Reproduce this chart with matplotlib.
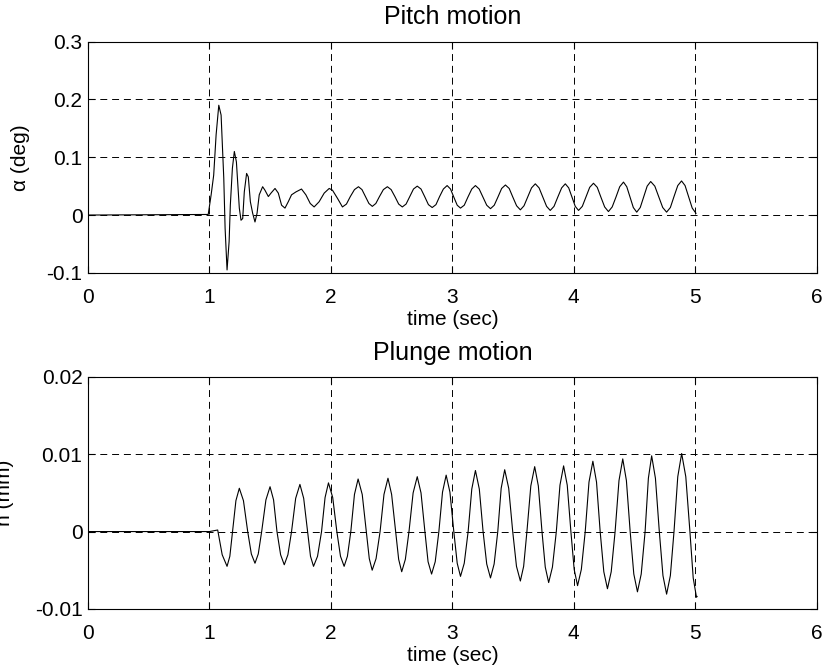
import matplotlib.pyplot as plt
from matplotlib.ticker import FixedLocator

plt.rcParams['font.family'] = ['Liberation Sans', 'DejaVu Sans']
plt.rcParams['font.size'] = 15
plt.rcParams['lines.scale_dashes'] = False

# Pitch response: transient after the impulse at t = 1 s
pitch_t_transient = [0.0, 0.99, 1.014, 1.035, 1.055, 1.077, 1.096, 1.118, 1.129,
                     1.145, 1.162, 1.172, 1.189, 1.205, 1.222, 1.232, 1.246,
                     1.26, 1.274, 1.287, 1.306, 1.32, 1.337, 1.356, 1.375,
                     1.392, 1.41, 1.438, 1.457, 1.485, 1.507, 1.54, 1.567,
                     1.594, 1.622, 1.649, 1.676, 1.712, 1.758, 1.794, 1.83,
                     1.862, 1.903, 1.945, 1.986, 2.013, 2.054]
pitch_a_transient = [0.0, 0.001, 0.035, 0.069, 0.139, 0.19, 0.173, 0.064, -0.023,
                     -0.095, -0.046, 0.017, 0.081, 0.110, 0.092, 0.058, 0.012,
                     -0.009, -0.006, 0.040, 0.072, 0.066, 0.023, 0.003, -0.012,
                     0.003, 0.035, 0.049, 0.043, 0.032, 0.038, 0.046, 0.038,
                     0.017, 0.012, 0.023, 0.035, 0.040, 0.045, 0.035, 0.020,
                     0.014, 0.023, 0.038, 0.046, 0.043, 0.029]

# Pitch response: steady oscillation
pitch_t_osc = [2.095, 2.128, 2.16, 2.194, 2.227, 2.256, 2.285, 2.313, 2.341,
               2.37, 2.40, 2.432, 2.465, 2.496, 2.527, 2.558, 2.588, 2.619,
               2.65, 2.68, 2.711, 2.742, 2.772, 2.803, 2.834, 2.865, 2.895,
               2.926, 2.957, 2.985, 3.012, 3.04, 3.067, 3.098, 3.128, 3.16,
               3.19, 3.221, 3.252, 3.283, 3.314, 3.345, 3.375, 3.406, 3.437,
               3.468, 3.498, 3.529, 3.56, 3.59, 3.62, 3.652, 3.683, 3.714,
               3.745, 3.776, 3.806, 3.837, 3.868, 3.9, 3.93, 3.958, 3.985,
               4.012, 4.039, 4.07, 4.10, 4.131, 4.162, 4.193, 4.223, 4.254,
               4.285, 4.316, 4.347, 4.378, 4.409, 4.436, 4.463, 4.49, 4.518,
               4.547, 4.575, 4.604, 4.633, 4.667, 4.70, 4.732, 4.764, 4.795,
               4.825, 4.856, 4.887, 4.916, 4.945, 4.975, 5.006]
pitch_a_osc = [0.014, 0.019, 0.032, 0.044, 0.049, 0.044, 0.032, 0.020, 0.015,
               0.020, 0.032, 0.044, 0.049, 0.044, 0.032, 0.019, 0.014, 0.019,
               0.032, 0.045, 0.050, 0.045, 0.032, 0.018, 0.013, 0.018, 0.032,
               0.045, 0.051, 0.045, 0.031, 0.017, 0.012, 0.017, 0.031, 0.045,
               0.051, 0.045, 0.031, 0.017, 0.011, 0.017, 0.031, 0.046, 0.052,
               0.046, 0.031, 0.016, 0.009, 0.016, 0.031, 0.047, 0.054, 0.047,
               0.031, 0.015, 0.008, 0.015, 0.031, 0.047, 0.054, 0.047, 0.031,
               0.015, 0.008, 0.015, 0.031, 0.048, 0.055, 0.048, 0.031, 0.014,
               0.006, 0.014, 0.031, 0.049, 0.057, 0.049, 0.031, 0.013, 0.005,
               0.013, 0.031, 0.050, 0.058, 0.050, 0.031, 0.013, 0.005, 0.013,
               0.032, 0.051, 0.059, 0.051, 0.032, 0.012, 0.003]

# Plunge response (mm)
plunge_t = [0.0, 1.0, 1.068, 1.105, 1.145, 1.168, 1.19, 1.218, 1.246, 1.28,
            1.315, 1.345, 1.375, 1.402, 1.43, 1.465, 1.499, 1.528, 1.556,
            1.586, 1.616, 1.646, 1.676, 1.71, 1.745, 1.776, 1.808, 1.832,
            1.857, 1.89, 1.923, 1.952, 1.98, 2.015, 2.049, 2.079, 2.109,
            2.136, 2.164, 2.194, 2.224, 2.258, 2.292, 2.316, 2.34, 2.372,
            2.405, 2.437, 2.47, 2.50, 2.533, 2.558, 2.583, 2.613, 2.643,
            2.677, 2.711, 2.742, 2.774, 2.80, 2.829, 2.859, 2.889, 2.919,
            2.949, 2.98, 3.012, 3.04, 3.067, 3.098, 3.13, 3.16, 3.19, 3.222,
            3.253, 3.283, 3.314, 3.344, 3.374, 3.402, 3.431, 3.464, 3.497,
            3.528, 3.56, 3.587, 3.614, 3.646, 3.678, 3.708, 3.738, 3.765,
            3.793, 3.824, 3.856, 3.886, 3.916, 3.946, 3.976, 4.003, 4.031,
            4.062, 4.094, 4.125, 4.157, 4.187, 4.217, 4.247, 4.277, 4.308,
            4.34, 4.372, 4.403, 4.433, 4.464, 4.494, 4.524, 4.555, 4.587,
            4.614, 4.641, 4.672, 4.704, 4.734, 4.764, 4.795, 4.825, 4.856,
            4.888, 4.922, 4.956, 4.983, 5.01, 5.015]
plunge_h = [0.0, 0.0, 0.0002, -0.0030, -0.0045, -0.0032, 0.0, 0.0040, 0.0056,
            0.0040, 0.0, -0.0029, -0.0041, -0.0029, 0.0, 0.0041, 0.0058,
            0.0041, 0.0, -0.0030, -0.0043, -0.0030, 0.0, 0.0043, 0.0061,
            0.0043, 0.0, -0.0032, -0.0045, -0.0032, 0.0, 0.0044, 0.0063,
            0.0044, 0.0, -0.0032, -0.0045, -0.0032, 0.0, 0.0048, 0.0068,
            0.0048, 0.0, -0.0035, -0.0050, -0.0035, 0.0, 0.0048, 0.0069,
            0.0048, 0.0, -0.0036, -0.0052, -0.0036, 0.0, 0.0050, 0.0071,
            0.0050, 0.0, -0.0039, -0.0055, -0.0039, 0.0, 0.0051, 0.0073,
            0.0051, 0.0, -0.0041, -0.0058, -0.0041, 0.0, 0.0055, 0.0079,
            0.0055, 0.0, -0.0042, -0.0060, -0.0042, 0.0, 0.0056, 0.0080,
            0.0056, 0.0, -0.0045, -0.0064, -0.0045, 0.0, 0.0059, 0.0084,
            0.0059, 0.0, -0.0046, -0.0066, -0.0046, 0.0, 0.0060, 0.0085,
            0.0060, 0.0, -0.0049, -0.0070, -0.0049, 0.0, 0.0064, 0.0091,
            0.0064, 0.0, -0.0052, -0.0074, -0.0052, 0.0, 0.0066, 0.0094,
            0.0066, 0.0, -0.0055, -0.0078, -0.0055, 0.0, 0.0069, 0.0098,
            0.0069, 0.0, -0.0057, -0.0081, -0.0057, 0.0, 0.0071, 0.0101,
            0.0071, 0.0, -0.0060, -0.0085, -0.0084]

x_ticks = [0, 1, 2, 3, 4, 5, 6]
pitch_ticks = [-0.1, 0, 0.1, 0.2, 0.3]
pitch_labels = ['-0.1', '0', '0.1', '0.2', '0.3']
plunge_ticks = [-0.01, 0, 0.01, 0.02]
plunge_labels = ['-0.01', '0', '0.01', '0.02']


def style_axes(ax, yticks, ylabels):
    ax.set_xlim(0, 6)
    ax.xaxis.set_major_locator(FixedLocator(x_ticks))
    ax.set_xticklabels([str(v) for v in x_ticks])
    ax.set_yticks(yticks)
    ax.set_yticklabels(ylabels)
    ax.set_ylim(yticks[0], yticks[-1])
    ax.tick_params(direction='in', length=5, width=0.8, top=True, right=True)
    ax.tick_params(axis='x', pad=11)
    ax.tick_params(axis='y', pad=4)
    ax.grid(True, color='black', linestyle=(0, (5, 3.5)), linewidth=0.7)
    for sp in ax.spines.values():
        sp.set_linewidth(0.8)
    ax.set_xlabel('time (sec)', labelpad=2)


fig = plt.figure(figsize=(8.3, 6.72), dpi=100)

ax1 = fig.add_axes([0.106, 0.594, 0.878, 0.344])
ax1.plot(pitch_t_transient + pitch_t_osc, pitch_a_transient + pitch_a_osc,
         color='black', linewidth=0.8)
style_axes(ax1, pitch_ticks, pitch_labels)
ax1.set_title('Pitch motion', pad=13)
ax1.set_ylabel('\u03b1 (deg)')
ax1.yaxis.set_label_coords(-0.080, 0.5)

ax2 = fig.add_axes([0.106, 0.094, 0.878, 0.345])
ax2.plot(plunge_t, plunge_h, color='black', linewidth=0.8)
style_axes(ax2, plunge_ticks, plunge_labels)
ax2.set_title('Plunge motion', pad=12)
ax2.set_ylabel('h (mm)')
ax2.yaxis.set_label_coords(-0.101, 0.5)

fig.savefig('out.png', dpi=100)
